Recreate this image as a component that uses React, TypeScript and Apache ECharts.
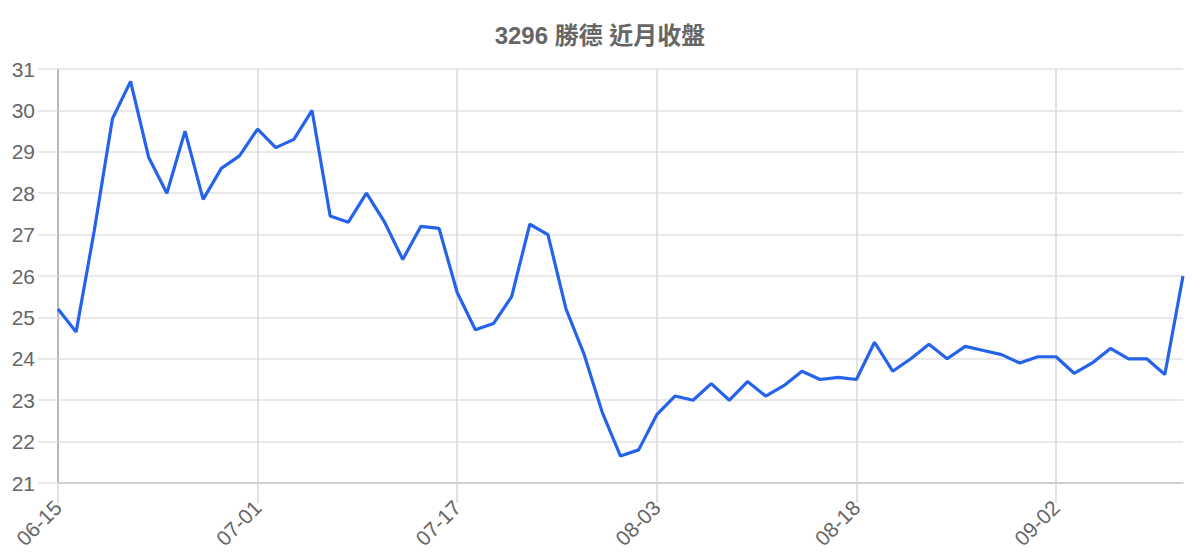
import React, { useEffect, useRef } from 'react';
import * as echarts from 'echarts';

const titleText = '3296 勝德 近月收盤';

// trading days shown on the category axis
const dates = [
  '06-15', '06-16', '06-17', '06-18', '06-22', '06-23', '06-24', '06-25', '06-26', '06-29', '06-30',
  '07-01', '07-02', '07-03', '07-06', '07-07', '07-08', '07-09', '07-13', '07-14', '07-15', '07-16',
  '07-17', '07-20', '07-21', '07-22', '07-23', '07-24', '07-27', '07-28', '07-29', '07-30', '07-31',
  '08-03', '08-04', '08-05', '08-06', '08-07', '08-10', '08-11', '08-12', '08-13', '08-14', '08-17',
  '08-18', '08-19', '08-20', '08-21', '08-24', '08-25', '08-26', '08-27', '08-28', '08-31', '09-01',
  '09-02', '09-03', '09-04', '09-07', '09-08', '09-09', '09-10', '09-11'
];

// closing prices
const closes = [
  25.2, 24.65, 27.1, 29.8, 30.7, 28.86, 28.0, 29.5, 27.85, 28.6, 28.9,
  29.55, 29.1, 29.3, 30.0, 27.45, 27.3, 28.0, 27.3, 26.4, 27.2, 27.15,
  25.6, 24.7, 24.85, 25.5, 27.25, 27.0, 25.2, 24.1, 22.7, 21.65, 21.8,
  22.65, 23.1, 23.0, 23.4, 23.0, 23.45, 23.1, 23.35, 23.7, 23.5, 23.55,
  23.5, 24.4, 23.7, 24.0, 24.35, 24.0, 24.3, 24.2, 24.1, 23.9, 24.05,
  24.05, 23.65, 23.9, 24.25, 24.0, 24.0, 23.62, 26.0
];

const yMin = 21;
const yMax = 31;

const App: React.FC = () => {
  const chartRef = useRef<HTMLDivElement>(null);

  useEffect(() => {
    if (!chartRef.current) return;
    const chart = echarts.init(chartRef.current, undefined, { renderer: 'svg' });
    const font = '"Liberation Sans", Arial, "Noto Sans CJK TC", sans-serif';

    chart.setOption({
      animation: false,
      textStyle: { fontFamily: font },
      title: {
        text: titleText,
        left: 'center',
        top: 18,
        textStyle: {
          fontFamily: '"Liberation Sans", "Noto Sans CJK TC", sans-serif',
          fontSize: 24,
          fontWeight: 'bold',
          color: '#666666'
        }
      },
      grid: {
        left: 58,
        right: 17,
        top: 69,
        bottom: 77
      },
      xAxis: {
        type: 'category',
        data: dates,
        boundaryGap: false,
        axisLine: { lineStyle: { color: '#c8c8c8', width: 1.5 } },
        axisTick: {
          show: true,
          interval: 10,
          length: 20,
          lineStyle: { color: '#d8d8d8', width: 1.5 }
        },
        axisLabel: {
          interval: 10,
          rotate: 45,
          margin: 21,
          fontSize: 21,
          color: '#666666',
          fontFamily: font
        },
        splitLine: {
          show: true,
          interval: 10,
          lineStyle: { color: '#d8d8d8', width: 1.5 }
        }
      },
      yAxis: {
        type: 'value',
        min: yMin,
        max: yMax,
        interval: 1,
        axisLine: { show: true, lineStyle: { color: '#aaaaaa', width: 1.5 } },
        axisTick: {
          show: true,
          length: 20,
          lineStyle: { color: '#e2e2e2', width: 1.5 }
        },
        axisLabel: {
          margin: 23,
          fontSize: 21,
          color: '#666666',
          fontFamily: font
        },
        splitLine: { lineStyle: { color: '#e2e2e2', width: 1.5 } }
      },
      series: [
        {
          type: 'line',
          data: closes,
          showSymbol: false,
          symbol: 'none',
          lineStyle: { color: '#2563eb', width: 3.2 },
          itemStyle: { color: '#2563eb' }
        }
      ]
    });

    return () => {
      chart.dispose();
    };
  }, []);

  return (
    <div
      ref={chartRef}
      style={{ position: 'fixed', left: 0, top: 0, width: '1200px', height: '560px', background: '#ffffff' }}
    />
  );
};

export default App;
